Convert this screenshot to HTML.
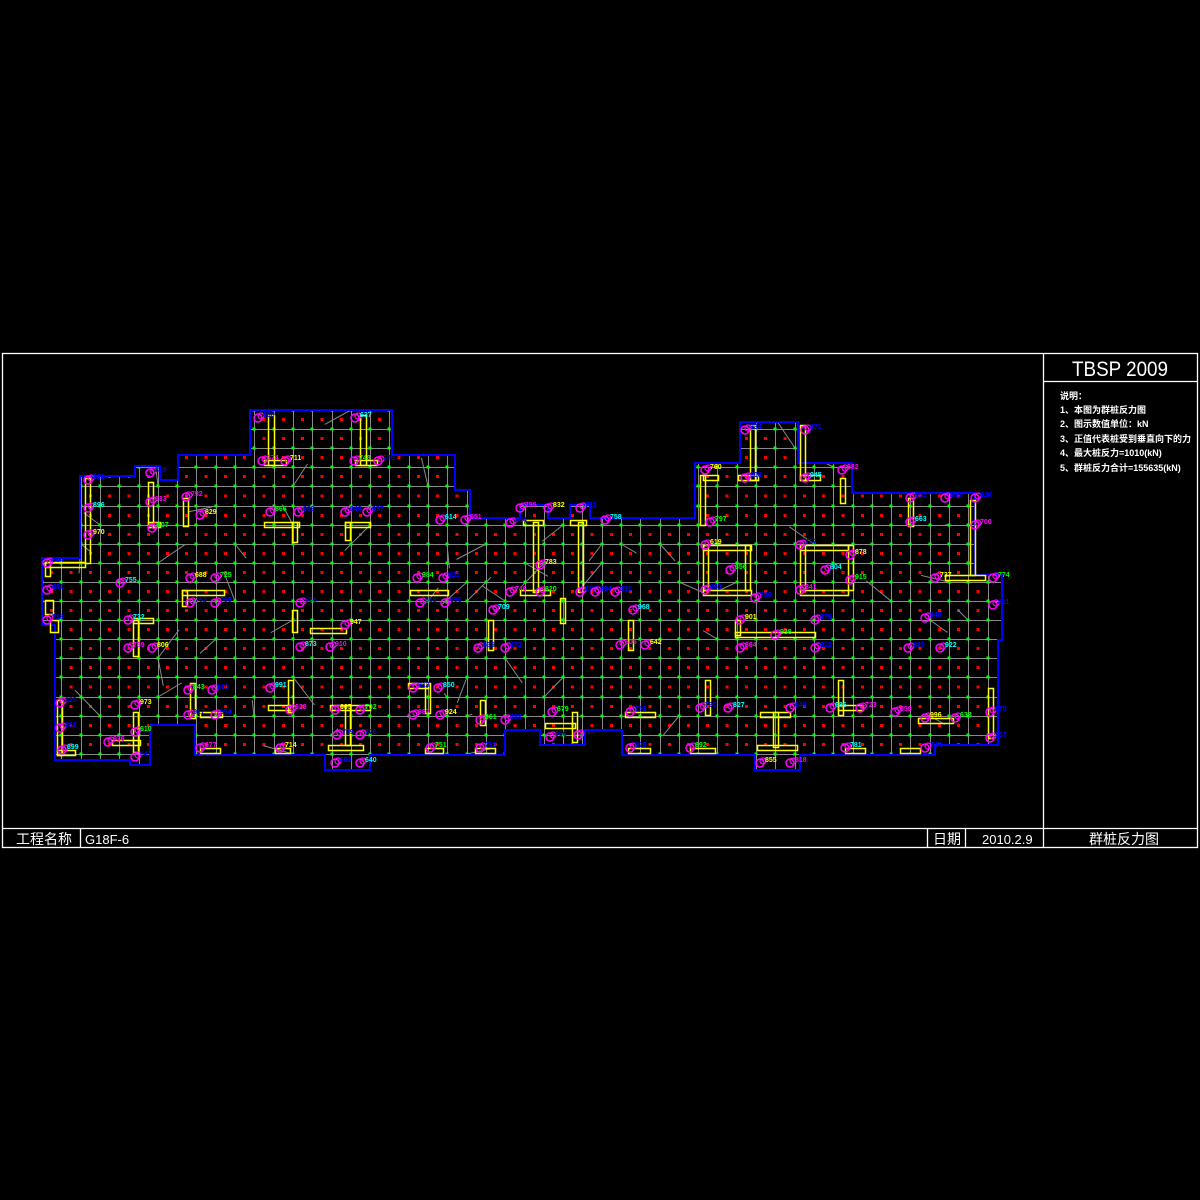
<!DOCTYPE html>
<html><head><meta charset="utf-8">
<style>
html,body{margin:0;padding:0;background:#000;width:1200px;height:1200px;overflow:hidden}
svg{display:block}
text{font-family:"Liberation Sans","Noto Sans CJK SC",sans-serif;fill:#fff}
</style></head>
<body>
<svg id="s" width="1200" height="1200" viewBox="0 0 1200 1200" xmlns="http://www.w3.org/2000/svg">
<defs>
<clipPath id="cp"><polygon id="outlineC" points=""/></clipPath>
</defs>
<rect width="1200" height="1200" fill="#000"/>
<g id="plan"></g>
<!-- frame -->
<g stroke="#fff" stroke-width="1.3" fill="none">
<rect x="2.5" y="353.5" width="1195" height="494"/>
<line x1="1043.5" y1="353" x2="1043.5" y2="848"/>
<line x1="2" y1="828.5" x2="1198" y2="828.5"/>
<line x1="1043" y1="381.5" x2="1198" y2="381.5"/>
<line x1="80.5" y1="828" x2="80.5" y2="848"/>
<line x1="927.5" y1="828" x2="927.5" y2="848"/>
<line x1="965.5" y1="828" x2="965.5" y2="848"/>
</g>
<text x="1120" y="376" font-size="21" text-anchor="middle" textLength="96" lengthAdjust="spacingAndGlyphs">TBSP 2009</text>
<g font-size="9" font-weight="bold">
<text x="1060" y="399">说明：</text>
<text x="1060" y="413">1、本图为群桩反力图</text>
<text x="1060" y="427">2、图示数值单位：kN</text>
<text x="1060" y="442">3、正值代表桩受到垂直向下的力</text>
<text x="1060" y="456">4、最大桩反力=1010(kN)</text>
<text x="1060" y="471">5、群桩反力合计=155635(kN)</text>
</g>
<g font-size="14">
<text x="16" y="844">工程名称</text>
<text x="85" y="844" font-size="13">G18F-6</text>
<text x="933" y="844">日期</text>
<text x="982" y="844" font-size="13">2010.2.9</text>
<text x="1089" y="844">群桩反力图</text>
</g>
</svg>
<script>
(function(){
var NS="http://www.w3.org/2000/svg";
var pts=[[42,558],[80,558],[80,476],[135,476],[135,466],[160,466],[160,480],[178,480],[178,455],[250,455],[250,410],[392,410],[392,455],[455,455],[455,490],[470,490],[470,518],[520,518],[520,505],[548,505],[548,518],[570,518],[570,505],[590,505],[590,518],[695,518],[695,463],[740,463],[740,422],[798,422],[798,463],[852,463],[852,493],[975,493],[975,575],[1002,575],[1002,640],[998,640],[998,745],[975,745],[935,745],[935,755],[800,755],[800,770],[755,770],[755,755],[622,755],[622,730],[585,730],[585,745],[540,745],[540,730],[505,730],[505,755],[370,755],[370,770],[325,770],[325,755],[195,755],[195,725],[150,725],[150,765],[130,765],[130,760],[55,760],[55,625],[42,625]];
var ps=pts.map(function(p){return p.join(",")}).join(" ");
document.getElementById("outlineC").setAttribute("points",ps);
var plan=document.getElementById("plan");
function el(t,a,p){var e=document.createElementNS(NS,t);for(var k in a)e.setAttribute(k,a[k]);(p||plan).appendChild(e);return e;}
var g=el("g",{"clip-path":"url(#cp)"});
var xs=[],ys=[];
for(var x=42;x<=1005;x+=19.3)xs.push(Math.round(x));
for(var y=410;y<=772;y+=19.1)ys.push(Math.round(y));
// red dots
for(var i=0;i<xs.length-1;i++)for(var j=0;j<ys.length-1;j++){
 var cx=(xs[i]+xs[i+1])/2,cy=(ys[j]+ys[j+1])/2;
 el("rect",{x:cx-1.5,y:cy-1.5,width:3,height:3,fill:"#f00"},g);
}
xs.forEach(function(x){el("line",{x1:x+.5,y1:400,x2:x+.5,y2:780,stroke:"#8a8a8a","stroke-width":1},g)});
ys.forEach(function(y){el("line",{x1:30,y1:y+.5,x2:1010,y2:y+.5,stroke:"#8a8a8a","stroke-width":1},g)});
// diagonal triangulation lines
var seed=7;function rnd(){seed=(seed*9301+49297)%233280;return seed/233280;}
for(var k=0;k<70;k++){var a=xs[Math.floor(rnd()*xs.length)],b=ys[Math.floor(rnd()*ys.length)];
 el("line",{x1:a,y1:b,x2:a+(rnd()-.5)*60,y2:b+(rnd()-.5)*60,stroke:"#8a8a8a","stroke-width":1},g);}
xs.forEach(function(x){ys.forEach(function(y){el("rect",{x:x-1.5,y:y-1.5,width:3,height:3,fill:"#0f0"},g)})});
el("polygon",{points:ps,fill:"none",stroke:"#00f","stroke-width":2});
// yellow walls
var W=[[268,415,6,50],[264,460,22,5],[360,415,6,50],[355,460,22,5],[85,478,5,85],[45,562,40,5],[45,562,5,14],[148,482,5,45],[148,522,12,5],[183,498,5,28],[264,522,35,5],[292,522,5,20],[345,522,25,5],[345,522,5,18],[182,590,42,5],[182,590,5,16],[310,628,36,5],[292,610,5,22],[410,590,38,5],[133,620,5,36],[133,618,20,5],[190,683,5,35],[200,712,22,5],[268,705,22,5],[288,680,5,32],[330,705,40,5],[345,705,5,40],[328,745,35,5],[425,683,5,30],[408,683,20,5],[480,700,5,25],[488,620,5,30],[533,522,5,70],[523,520,20,5],[578,522,5,70],[570,520,16,5],[560,598,5,25],[520,590,30,5],[628,620,5,30],[700,475,5,50],[703,475,15,5],[750,425,5,55],[738,475,20,5],[800,425,5,55],[800,475,20,5],[840,478,5,25],[703,545,48,5],[703,545,5,45],[703,590,48,5],[745,545,5,45],[800,545,48,5],[800,545,5,45],[800,590,48,5],[848,545,5,45],[735,632,80,5],[735,620,5,15],[908,498,5,28],[970,500,5,75],[945,575,40,5],[918,718,35,5],[988,688,5,50],[838,680,5,35],[838,705,25,5],[705,680,5,35],[625,712,30,5],[545,723,30,5],[572,712,5,30],[773,712,5,35],[760,712,30,5],[757,745,40,5],[628,748,22,5],[690,748,25,5],[845,748,20,5],[900,748,20,5],[200,748,20,5],[275,748,15,5],[425,748,18,5],[475,748,20,5],[57,700,5,55],[57,750,18,5],[112,740,28,5],[133,712,5,40],[50,620,8,12],[45,600,8,14]];
W.forEach(function(w){el("rect",{x:w[0]+.5,y:w[1]+.5,width:w[2],height:w[3],fill:"none",stroke:"#ff0","stroke-width":1.5})});
// magenta piles with labels
var cols=["#00f","#0ff","#f0f","#ff0","#0f0","#00f","#00f"];
var P=[[258,418],[355,418],[262,461],[285,461],[354,461],[378,461],[88,480],[150,473],[88,508],[150,502],[88,535],[152,528],[47,563],[47,590],[47,620],[120,583],[186,497],[200,515],[270,512],[298,512],[345,512],[367,512],[440,520],[465,520],[190,578],[215,578],[190,603],[215,603],[300,603],[300,647],[330,647],[345,625],[417,578],[443,578],[420,603],[445,603],[128,620],[128,648],[152,648],[188,690],[212,690],[188,715],[215,715],[270,688],[290,710],[335,710],[360,710],[337,735],[360,735],[413,688],[438,688],[413,715],[440,715],[480,720],[505,720],[478,648],[505,648],[493,610],[510,592],[540,565],[540,592],[580,592],[595,592],[615,592],[633,610],[620,645],[645,645],[552,712],[578,735],[630,712],[700,708],[728,708],[740,648],[740,620],[775,635],[815,620],[815,648],[790,708],[830,708],[860,708],[705,470],[710,522],[745,430],[805,430],[745,478],[805,478],[842,470],[705,545],[730,570],[705,590],[755,598],[800,545],[825,570],[800,590],[850,555],[850,580],[910,498],[945,498],[975,498],[910,522],[975,525],[935,578],[993,578],[993,605],[925,618],[908,648],[940,648],[895,712],[925,718],[955,718],[990,712],[990,738],[925,748],[845,748],[790,763],[760,763],[690,748],[630,748],[550,737],[335,763],[360,763],[200,748],[280,748],[430,748],[480,748],[60,703],[60,728],[62,750],[108,742],[135,705],[135,732],[135,757],[510,523],[580,508],[605,520],[520,508],[548,508]];
P.forEach(function(p,i){
 el("circle",{cx:p[0],cy:p[1],r:4,fill:"none",stroke:"#f0f","stroke-width":1.5});
 el("circle",{cx:p[0]+3,cy:p[1]-2,r:3,fill:"none",stroke:"#f0f","stroke-width":1.2});
 var t=el("text",{x:p[0]+5,y:p[1]-1,"font-size":"7","font-weight":"bold"});
 t.setAttribute("style","fill:"+cols[i%cols.length]);
 t.textContent=String(600+((i*37)%400));
});
})();
</script>
</body></html>
